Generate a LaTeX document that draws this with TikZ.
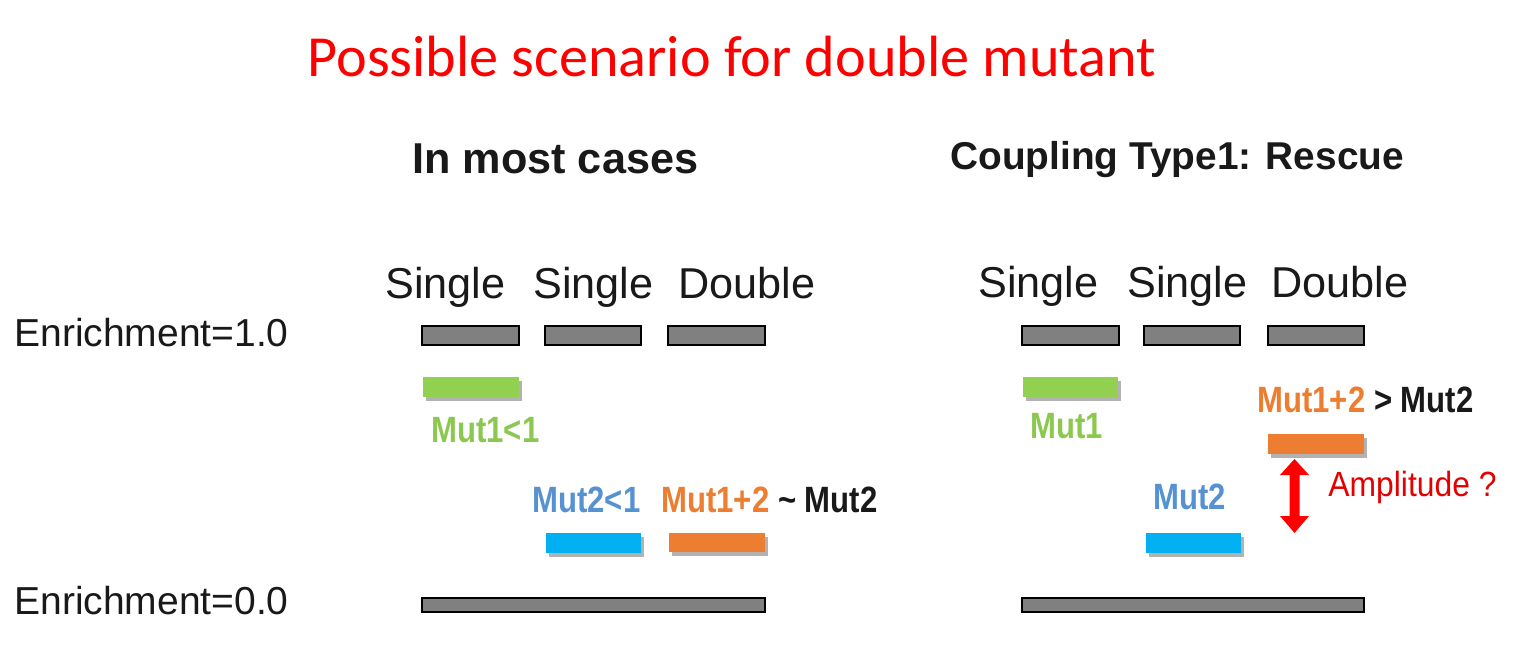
\documentclass[tikz,border=0pt]{standalone}
\usepackage{fontspec}
\setmainfont{Liberation Sans}
\newfontfamily\titlefont{Carlito}
\newfontfamily\mutfont[FakeStretch=0.85]{Liberation Sans}
\newfontfamily\ampfont[FakeStretch=0.91]{Liberation Sans}
\usetikzlibrary{shadows}
\definecolor{barg}{RGB}{128,128,128}
\definecolor{grn}{RGB}{146,208,80}
\definecolor{grntxt}{RGB}{140,200,80}
\definecolor{cyn}{RGB}{0,176,240}
\definecolor{blutxt}{RGB}{86,146,210}
\definecolor{orng}{RGB}{237,125,49}
\definecolor{txt}{RGB}{25,25,25}
\definecolor{ampred}{RGB}{228,0,0}
\tikzset{
  lbl/.style={inner sep=0pt, anchor=base west, text=txt},
  graybar/.style={fill=barg, draw=black, line width=1pt},
  cbar/.style={fill=#1, drop shadow={shadow xshift=1.5pt, shadow yshift=-2pt, opacity=0.3, fill=black}},
}
\begin{document}
\begin{tikzpicture}[x=0.5pt, y=-0.5pt]
\path[use as bounding box, fill=white] (0,0) rectangle (1516,668);

% title
\node[lbl, text=red, font=\titlefont\fontsize{29.1}{34}\selectfont] (title) at (307,77) {Possible scenario for double mutant};

% headings
\node[lbl, font=\bfseries\fontsize{21.6}{25}\selectfont] (hleft) at (412,174) {In most cases};
\node[lbl, font=\bfseries\fontsize{19.4}{23}\selectfont] (hright) at (950,170) {Coupling Type1: Rescue};

% y-axis labels
\node[lbl, font=\fontsize{19.5}{23}\selectfont] (e1) at (14,347) {Enrichment=1.0};
\node[lbl, font=\fontsize{19.5}{23}\selectfont] (e0) at (14,614) {Enrichment=0.0};

% column labels
\tikzset{collbl/.style={lbl, font=\fontsize{21.6}{25}\selectfont}}
\node[collbl] (ls1) at (385,299) {Single};
\node[collbl] (ls2) at (533,299) {Single};
\node[collbl] (ld)  at (678,299) {Double};
\node[collbl] (rs1) at (978,298) {Single};
\node[collbl] (rs2) at (1127,298) {Single};
\node[collbl] (rd)  at (1271,298) {Double};

% reference bars (enrichment 1.0)
\draw[graybar] (422,326) rectangle (519,345);
\draw[graybar] (545,326) rectangle (641,345);
\draw[graybar] (668,326) rectangle (765,345);
\draw[graybar] (1022,326) rectangle (1119,345);
\draw[graybar] (1144,326) rectangle (1240,345);
\draw[graybar] (1268,326) rectangle (1364,345);

% baseline bars (enrichment 0.0)
\draw[graybar] (422,598) rectangle (765,612);
\draw[graybar] (1022,598) rectangle (1364,612);

% left panel coloured bars
\fill[cbar=grn] (423,377) rectangle (519,397);
\fill[cbar=cyn] (546,533) rectangle (641,553);
\fill[cbar=orng] (669,533) rectangle (765,552);

% right panel coloured bars
\fill[cbar=grn] (1023,377) rectangle (1118,397);
\fill[cbar=cyn] (1146,533) rectangle (1241,553);
\fill[cbar=orng] (1268,434) rectangle (1364,454);

% left labels
\tikzset{mut/.style={lbl, font=\mutfont\bfseries\fontsize{18.3}{22}\selectfont}}
\node[mut, text=grntxt] (lm1) at (431,443) {Mut1<1};
\node[mut, text=blutxt] (lm2) at (532,512) {Mut2<1};
\node[mut] (lm12) at (661,512) {\textcolor{orng}{Mut1+2} \textasciitilde{} Mut2};

% right labels
\node[mut, text=grntxt] (rm1) at (1030,438) {Mut1};
\node[mut, text=blutxt] (rm2) at (1153,509) {Mut2};
\node[mut] (rm12) at (1257,412) {\textcolor{orng}{Mut1+2} > Mut2};

% amplitude double arrow
\fill[red] (1294.5,459) -- (1309,475) -- (1299.5,475) -- (1299.5,516) -- (1309,516)
  -- (1294.5,533) -- (1280,516) -- (1289.5,516) -- (1289.5,475) -- (1280,475) -- cycle;
\node[lbl, text=ampred, font=\ampfont\fontsize{17.5}{21}\selectfont] (amp) at (1328,496) {Amplitude ?};
\end{tikzpicture}
\end{document}
